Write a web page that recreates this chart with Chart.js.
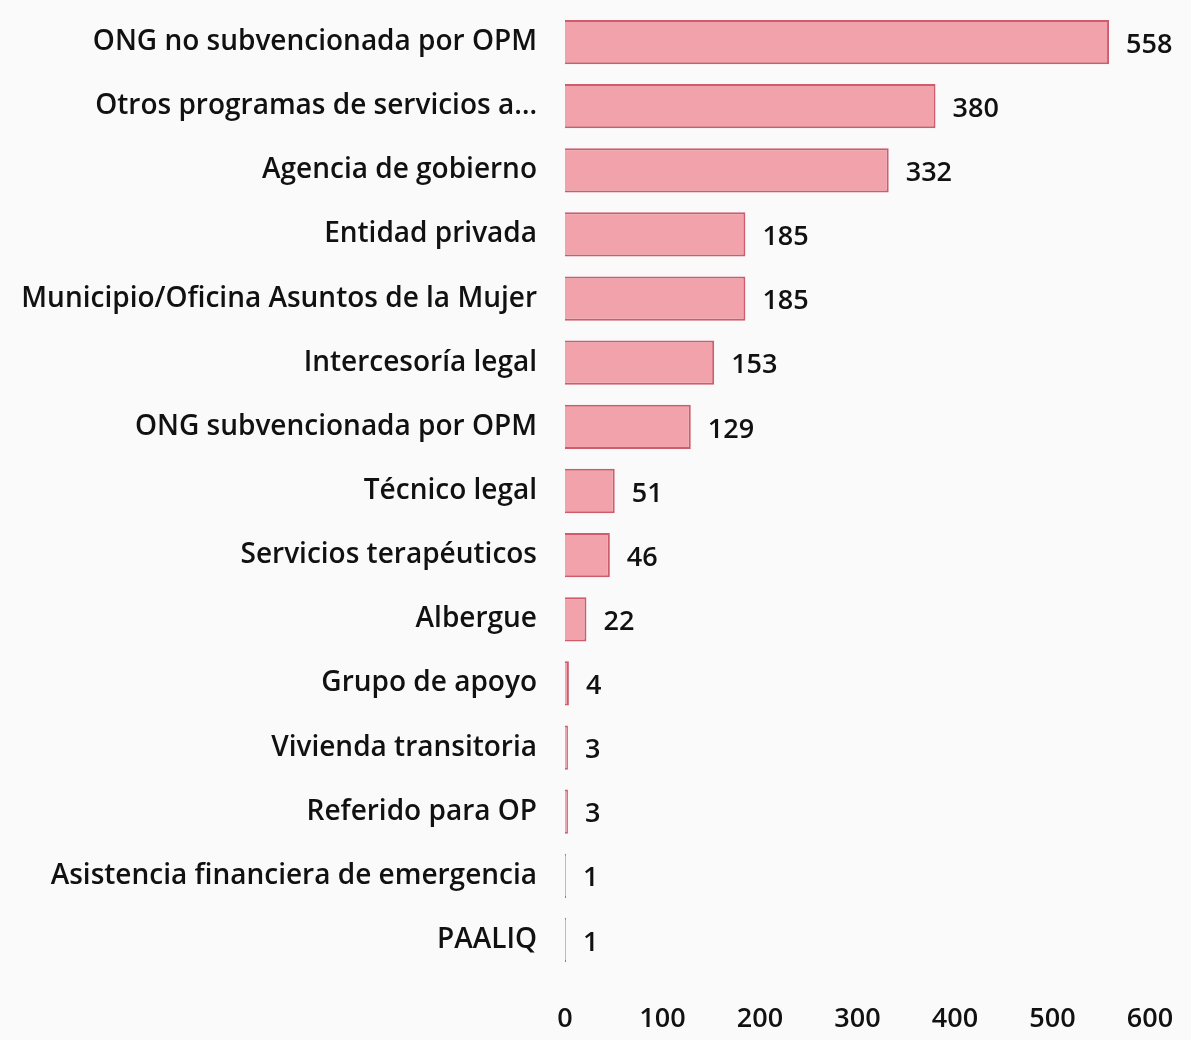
<!DOCTYPE html>
<html>
<head>
<meta charset="utf-8">
<script src="https://cdn.jsdelivr.net/npm/chart.js@4"></script>
<style>
  html, body { margin: 0; padding: 0; background: #fafafa; }
  #wrap { width: 1191px; height: 1040px; position: relative; }
</style>
</head>
<body>
<div id="wrap"><canvas id="myChart"></canvas></div>
<script>
  // Données du graphique
  const categories = [
    'ONG no subvencionada por OPM',
    'Otros programas de servicios a…',
    'Agencia de gobierno',
    'Entidad privada',
    'Municipio/Oficina Asuntos de la Mujer',
    'Intercesoría legal',
    'ONG subvencionada por OPM',
    'Técnico legal',
    'Servicios terapéuticos',
    'Albergue',
    'Grupo de apoyo',
    'Vivienda transitoria',
    'Referido para OP',
    'Asistencia financiera de emergencia',
    'PAALIQ'
  ];
  const valores = [558, 380, 332, 185, 185, 153, 129, 51, 46, 22, 4, 3, 3, 1, 1];
  const xTicks = [0, 100, 200, 300, 400, 500, 600];

  const FONT = '"Open Sans", "Noto Sans", sans-serif';

  // Étiquettes de valeur au bout des barres
  const valueLabels = {
    id: 'valueLabels',
    afterDatasetsDraw(chart) {
      const c = chart.ctx;
      const meta = chart.getDatasetMeta(0);
      c.save();
      c.font = '600 27px ' + FONT;
      c.fillStyle = '#111';
      c.textAlign = 'left';
      c.textBaseline = 'middle';
      meta.data.forEach((bar, i) => {
        c.fillText(String(valores[i]), bar.x + 17, bar.y + 3);
      });
      c.restore();
    }
  };

  const ctx = document.getElementById('myChart').getContext('2d');
  const myChart = new Chart(ctx, {
    type: 'bar',
    data: {
      labels: categories,
      datasets: [{
        data: valores,
        backgroundColor: 'rgb(241, 162, 171)',
        borderColor: 'rgb(206, 92, 108)',
        borderWidth: 2,
        barPercentage: 0.69,
        categoryPercentage: 1
      }]
    },
    options: {
      indexAxis: 'y',
      responsive: true,
      maintainAspectRatio: false,
      animation: false,
      layout: { padding: { top: 10, right: 41, bottom: 5, left: 0 } },
      plugins: {
        legend: { display: false },
        tooltip: { enabled: false }
      },
      scales: {
        x: {
          min: 0,
          max: 600,
          afterBuildTicks(axis) { axis.ticks = xTicks.map(v => ({ value: v })); },
          grid: { display: false, drawTicks: false },
          border: { display: false },
          ticks: { color: '#111', font: { family: FONT, size: 27, weight: '600' }, padding: 31 },
          afterFit(axis) { axis.height = 63; axis.paddingLeft = 0; axis.paddingRight = 0; }
        },
        y: {
          grid: { display: false, drawTicks: false },
          border: { display: false },
          ticks: { color: '#111', font: { family: FONT, size: 28, weight: '600' }, padding: 28, autoSkip: false },
          afterFit(axis) { axis.width = 565; axis.paddingTop = 0; axis.paddingBottom = 0; }
        }
      }
    },
    plugins: [valueLabels]
  });
</script>
</body>
</html>
